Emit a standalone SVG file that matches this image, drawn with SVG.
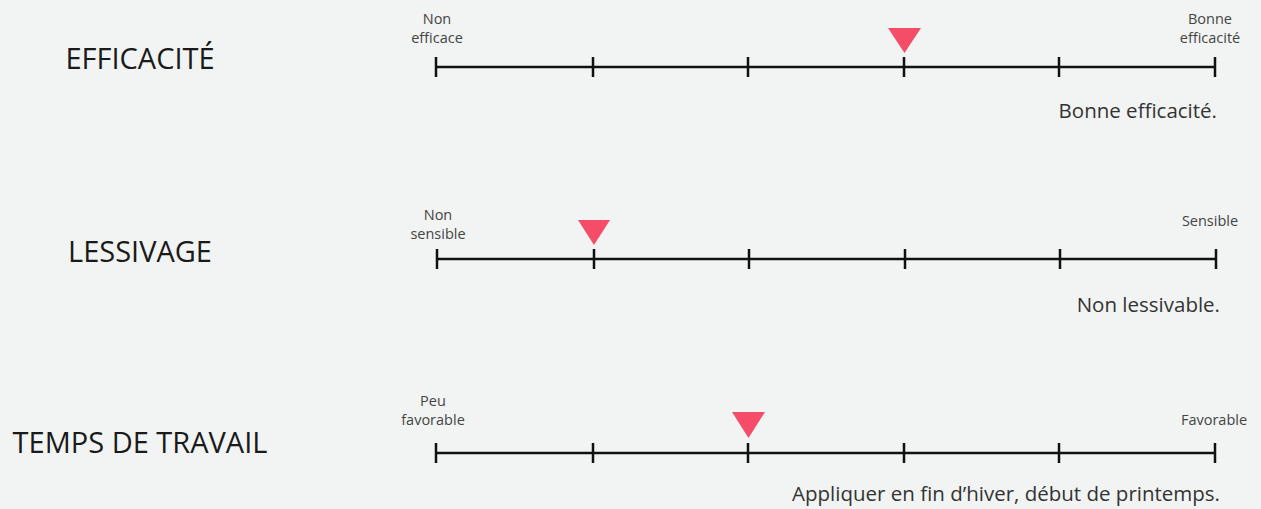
<svg xmlns="http://www.w3.org/2000/svg" width="1261" height="509" viewBox="0 0 1261 509">
<style>
.bg{fill:#f1f4f3}
.axis{stroke:#111;stroke-width:2.5;fill:none}
.tick{stroke:#111;stroke-width:2.5}
.mark{fill:#f54d68}
.title{font-family:"Open Sans","Liberation Sans",sans-serif;font-size:29px;fill:#1a1a1a;text-anchor:middle}
.end{font-family:"Open Sans","Liberation Sans",sans-serif;font-size:14.5px;fill:#444;text-anchor:middle}
.note{font-family:"Open Sans","Liberation Sans",sans-serif;font-size:20.5px;fill:#333;text-anchor:end}
</style>
<defs>
<g id="ticks">
<line class="tick" x1="436" y1="-10" x2="436" y2="10"/>
<line class="tick" x1="593" y1="-10" x2="593" y2="10"/>
<line class="tick" x1="748" y1="-10" x2="748" y2="10"/>
<line class="tick" x1="904" y1="-10" x2="904" y2="10"/>
<line class="tick" x1="1059" y1="-10" x2="1059" y2="10"/>
<line class="tick" x1="1215" y1="-10" x2="1215" y2="10"/>
<line class="axis" x1="436" y1="0" x2="1215" y2="0"/>
</g>
</defs>
<rect class="bg" x="0" y="0" width="1261" height="509"/>
<g id="efficacite">
<text class="title" x="140" y="69">EFFICACITÉ</text>
<use href="#ticks" transform="translate(0,67)"/>
<text class="end" x="437" y="24">Non</text>
<text class="end" x="437" y="43">efficace</text>
<text class="end" x="1210" y="24">Bonne</text>
<text class="end" x="1210" y="43">efficacité</text>
<polygon class="mark" points="888,28 921,28 904.5,53"/>
<text class="note" x="1217" y="118">Bonne efficacité.</text>
</g>
<g id="lessivage">
<text class="title" x="140" y="262">LESSIVAGE</text>
<use href="#ticks" transform="translate(1,259)"/>
<text class="end" x="438" y="220">Non</text>
<text class="end" x="438" y="239">sensible</text>
<text class="end" x="1210" y="226">Sensible</text>
<polygon class="mark" points="578,220 610,220 594,245"/>
<text class="note" x="1220" y="312">Non lessivable.</text>
</g>
<g id="temps">
<text class="title" x="140" y="453">TEMPS DE TRAVAIL</text>
<use href="#ticks" transform="translate(0,453)"/>
<text class="end" x="433" y="406">Peu</text>
<text class="end" x="433" y="425">favorable</text>
<text class="end" x="1214" y="425">Favorable</text>
<polygon class="mark" points="732,412 765,412 748.5,438"/>
<text class="note" x="1220" y="501">Appliquer en fin d’hiver, début de printemps.</text>
</g>
</svg>
